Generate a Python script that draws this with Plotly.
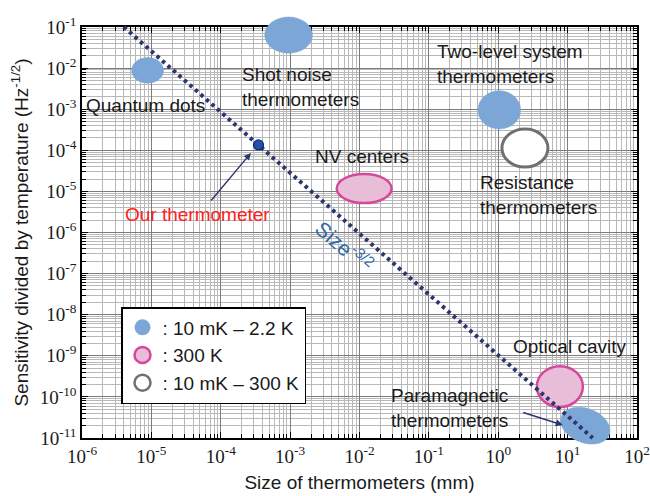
import numpy as np
import plotly.graph_objects as go

# ---------------- data ----------------
# thermometer families drawn as ellipses (range of size in mm, range of sensitivity/T)
blob_names = ["Quantum dots", "Shot noise thermometers", "Two-level system thermometers",
              "Resistance thermometers", "NV centers", "Optical cavity"]
blob_size_lo = [5.2e-6, 4.3e-4, 0.51, 1.13, 4.7e-3, 3.6]
blob_size_hi = [1.5e-5, 2.1e-3, 2.1, 5.2, 2.9e-2, 16.6]
blob_sens_lo = [4.3e-3, 2.3e-2, 3.3e-4, 3.9e-5, 5.2e-6, 5.7e-11]
blob_sens_hi = [1.8e-2, 1.75e-1, 2.8e-3, 3.3e-4, 2.65e-5, 5.6e-10]
blob_temp = ["low", "low", "low", "wide", "room", "room"]

# paramagnetic thermometers (tilted blob): centre
para_size = 18.0
para_sens = 2.0e-11
para_temp = "low"

# Size^-3/2 guide line
guide_size = [4.0e-6, 23.0]
guide_sens = [1e-1, 1e-11]

# our thermometer
our_size = [3.5e-4]
our_sens = [1.35e-4]

legend_labels = [": 10 mK \u2013 2.2 K", ": 300 K", ": 10 mK \u2013 300 K"]
legend_keys = ["low", "room", "wide"]

x_exps = list(range(-6, 3))
y_exps = list(range(-11, 0))
x_ticktext = [f"10<sup>{e}</sup>" for e in x_exps]
y_ticktext = [f"10<sup>{e}</sup>" for e in y_exps]

# ---------------- styles ----------------
STY = {
    "low": dict(fill="#7ca6d5", line="#7ca6d5", lw=0.5),
    "room": dict(fill="#e8bdd7", line="#d6489b", lw=2.5),
    "wide": dict(fill="#ffffff", line="#707070", lw=3),
}
NAVY = "#2b3570"
SANS = "Liberation Sans, Arial, sans-serif"
SERIF = "Liberation Serif, Times New Roman, serif"

W, H = 650, 496
MT, MB, ML, MR = 5, 50, 82, 13
PLOT_TOP, PLOT_BOT = 27, 438
ph = H - MT - MB
ydom = [(H - MB - PLOT_BOT) / ph, (H - MB - PLOT_TOP) / ph]
YR = [-11, -1]
dec_per_paper = (YR[1] - YR[0]) / (ydom[1] - ydom[0])
y2range = [YR[0] - ydom[0] * dec_per_paper, YR[1] + (1 - ydom[1]) * dec_per_paper]

fig = go.Figure()

# legend entries (on main axes)
for key, lab in zip(legend_keys, legend_labels):
    s = STY[key]
    fig.add_trace(go.Scatter(x=[None], y=[None], mode="markers", name=lab,
                             marker=dict(size=20, color=s["fill"],
                                         line=dict(color=s["line"], width=2.5 if key != "low" else 0)),
                             xaxis="x", yaxis="y", showlegend=True))

# guide line and our point (on the overlay axes, same mapping)
fig.add_trace(go.Scatter(x=guide_size, y=guide_sens, mode="lines",
                         line=dict(color=NAVY, width=4, dash="3.5px,3.8px"),
                         xaxis="x2", yaxis="y2", showlegend=False, hoverinfo="skip"))
fig.add_trace(go.Scatter(x=our_size, y=our_sens, mode="markers",
                         marker=dict(size=10, color="#1f52a8", line=dict(color="#0d2c70", width=1.2)),
                         xaxis="x2", yaxis="y2", showlegend=False))

# ellipses
for lo, hi, slo, shi, t in zip(blob_size_lo, blob_size_hi, blob_sens_lo, blob_sens_hi, blob_temp):
    s = STY[t]
    fig.add_shape(type="circle", xref="x2", yref="y2", x0=lo, x1=hi, y0=slo, y1=shi,
                  fillcolor=s["fill"], line=dict(color=s["line"], width=s["lw"]), layer="below")

# tilted paramagnetic blob (conjugate semi-axes in decades)
a_vec = (0.344, -0.224)
b_vec = (-0.088, -0.389)
tt = np.linspace(0, 2 * np.pi, 73)
lx = np.log10(para_size) + a_vec[0] * np.cos(tt) + b_vec[0] * np.sin(tt)
ly = np.log10(para_sens) + a_vec[1] * np.cos(tt) + b_vec[1] * np.sin(tt)
pts = [f"{10**u:.6g},{10**v:.6g}" for u, v in zip(lx, ly)]
path = "M" + " L".join(pts) + " Z"
s = STY[para_temp]
fig.add_shape(type="path", path=path, xref="x2", yref="y2", fillcolor=s["fill"],
              line=dict(color=s["line"], width=s["lw"]), layer="below")

# text labels
def lab(text, x, y, xanchor="center", color="#1a1a1a", size=19, angle=0, align="left"):
    fig.add_annotation(text=text, x=np.log10(x), y=np.log10(y), xref="x", yref="y",
                       xanchor=xanchor, yanchor="middle", showarrow=False, align=align,
                       textangle=angle, font=dict(family=SANS, size=size, color=color))

lab("Quantum dots", 8.35e-6, 1.2e-3)
lab("Shot noise<br>thermometers", 1.89e-4, 3.56e-3, xanchor="left")
lab("Two-level system<br>thermometers", 0.122, 1.26e-2, xanchor="left")
lab("NV centers", 0.011, 7.26e-5)
lab("Resistance<br>thermometers", 0.508, 8.2e-6, xanchor="left")
lab("Our thermometer", 4.6e-5, 2.67e-6, color="#ff2020")
lab("Size<sup>-3/2</sup>", 6.0e-3, 4.6e-7, color="#2d6aa8", size=21, angle=41)
lab("Optical cavity", 10.6, 1.64e-9)
lab("Paramagnetic<br>thermometers", 0.2, 5.5e-11, align="left")

# arrows
fig.add_annotation(x=np.log10(2.72e-4), y=np.log10(8.6e-5), xref="x", yref="y", text="",
                   showarrow=True, ax=-41, ay=49, arrowhead=2, arrowsize=1, arrowwidth=1.4,
                   arrowcolor=NAVY, standoff=0)
fig.add_annotation(x=np.log10(8.5), y=np.log10(2.07e-11), xref="x", yref="y", text="",
                   showarrow=True, ax=-41, ay=-13, arrowhead=2, arrowsize=1, arrowwidth=1.4,
                   arrowcolor=NAVY, standoff=0)

minor_x = [m * 10.0**k for k in range(-6, 2) for m in range(2, 10)]
minor_y = [m * 10.0**k for k in range(-11, -1) for m in range(2, 10)]

axis_common = dict(type="log", showline=True, linecolor="black", linewidth=1.5, mirror="allticks",
                   ticks="inside", ticklen=6, tickcolor="black", tickwidth=1,
                   showgrid=True, gridcolor="#7c7c7c", gridwidth=1.3, zeroline=False,
                   layer="below traces",
                   tickfont=dict(family=SERIF, size=19, color="#1a1a1a"))

minor_common = dict(tickmode="array", ticks="inside", ticklen=4, tickcolor="black",
                    showgrid=True, gridcolor="#b8b8b8", gridwidth=1.1)

fig.update_layout(
    width=W, height=H,
    margin=dict(l=ML, r=MR, t=MT, b=MB, autoexpand=False),
    paper_bgcolor="white", plot_bgcolor="rgba(0,0,0,0)",
    xaxis=dict(**axis_common, range=[-6, 2], domain=[0, 1], anchor="y",
               tickmode="array", tickvals=[10.0**e for e in x_exps], ticktext=x_ticktext,
               minor=dict(**minor_common, tickvals=minor_x),
               title=dict(text="Size of thermometers (mm)", standoff=10,
                          font=dict(family=SANS, size=19, color="#1a1a1a"))),
    yaxis=dict(**axis_common, range=YR, domain=ydom, anchor="x",
               tickmode="array", tickvals=[10.0**e for e in y_exps], ticktext=y_ticktext,
               minor=dict(**minor_common, tickvals=minor_y),
               title=dict(text="Sensitivity divided by temperature (Hz<sup>-1/2</sup>)", standoff=6,
                          font=dict(family=SANS, size=19, color="#1a1a1a"))),
    xaxis2=dict(type="log", range=[-6, 2], domain=[0, 1], anchor="y2", visible=False),
    yaxis2=dict(type="log", range=y2range, domain=[0, 1], anchor="x2", visible=False),
    legend=dict(x=(121 - ML) / (W - ML - MR), y=(H - MB - 307) / ph, xanchor="left", yanchor="top",
                bgcolor="white", bordercolor="black", borderwidth=1.5,
                font=dict(family=SANS, size=19, color="#1a1a1a"),
                itemwidth=30, tracegroupgap=0),
    showlegend=True,
)

fig.write_html("out.html")
